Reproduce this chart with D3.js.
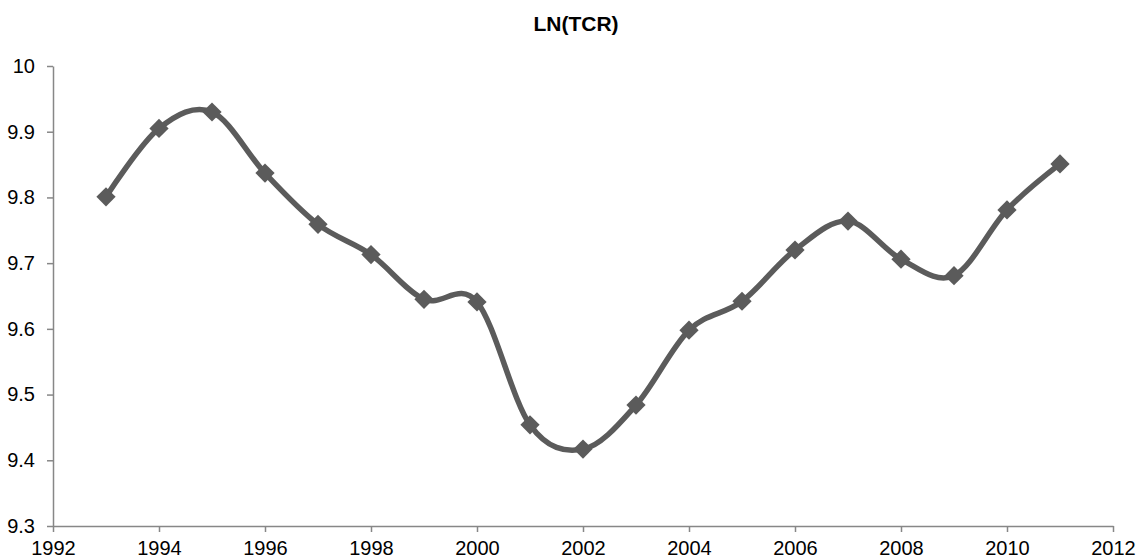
<!DOCTYPE html>
<html>
<head>
<meta charset="utf-8">
<script src="https://cdn.jsdelivr.net/npm/d3@7"></script>
<style>
  body { margin: 0; background: #fff; }
  .axis path, .axis line { stroke: #878787; stroke-width: 1.5px; }
  .axis text { font-family: "Liberation Sans", Arial, sans-serif; font-size: 20px; fill: #000; }
</style>
</head>
<body>
<div id="chart"></div>
<script>
// data
const years = [1993, 1994, 1995, 1996, 1997, 1998, 1999, 2000, 2001, 2002,
               2003, 2004, 2005, 2006, 2007, 2008, 2009, 2010, 2011];
const lnTcr = [9.801, 9.905, 9.930, 9.837, 9.759, 9.713, 9.645, 9.641, 9.454, 9.417,
               9.484, 9.598, 9.642, 9.720, 9.764, 9.706, 9.681, 9.781, 9.851];
const xTicks = [1992, 1994, 1996, 1998, 2000, 2002, 2004, 2006, 2008, 2010, 2012];
const yTicks = [9.3, 9.4, 9.5, 9.6, 9.7, 9.8, 9.9, 10];

const svg_width = 1139;
const svg_height = 559;
const margin = {top: 66, right: 26, bottom: 33, left: 53};
const chart_width = svg_width - margin.left - margin.right;
const chart_height = svg_height - margin.top - margin.bottom;

const svg = d3.select('#chart').append('svg')
              .attr('width', svg_width).attr('height', svg_height);

// title
svg.append('text')
   .attr('x', 576).attr('y', 31)
   .attr('text-anchor', 'middle')
   .style('font-family', '"Liberation Sans", Arial, sans-serif')
   .style('font-weight', 'bold').style('font-size', '21px')
   .text('LN(TCR)');

const g = svg.append('g')
             .attr('transform', `translate(${margin.left},${margin.top})`);

const xScale = d3.scaleLinear().domain([1992, 2012]).range([0, chart_width]);
const yScale = d3.scaleLinear().domain([9.3, 10]).range([chart_height, 0]);

// axes
const xAxis = d3.axisBottom(xScale).tickValues(xTicks)
                .tickFormat(d3.format('d'))
                .tickSizeInner(6).tickSizeOuter(0).tickPadding(9);
g.append('g').attr('class', 'x axis')
 .attr('transform', `translate(0,${chart_height})`)
 .call(xAxis);

const yAxis = d3.axisLeft(yScale).tickValues(yTicks)
                .tickFormat(d => d3.format('~g')(d))
                .tickSizeInner(6).tickSizeOuter(0).tickPadding(12);
g.append('g').attr('class', 'y axis').call(yAxis);

const data = years.map((y, i) => ({year: y, value: lnTcr[i]}));

// smoothed line
const line = d3.line()
               .x(d => xScale(d.year))
               .y(d => yScale(d.value))
               .curve(d3.curveCardinal.tension(0));
g.append('path')
 .datum(data)
 .attr('d', line)
 .attr('fill', 'none')
 .attr('stroke', '#5b5b5b')
 .attr('stroke-width', 5.5)
 .attr('stroke-linejoin', 'round');

// diamond markers
const marker = d3.symbol().type(d3.symbolSquare).size(185);
g.selectAll('.marker')
 .data(data)
 .enter()
 .append('path')
 .attr('class', 'marker')
 .attr('d', marker)
 .attr('transform', d => `translate(${xScale(d.year)},${yScale(d.value)}) rotate(45)`)
 .attr('fill', '#5b5b5b');
</script>
</body>
</html>
